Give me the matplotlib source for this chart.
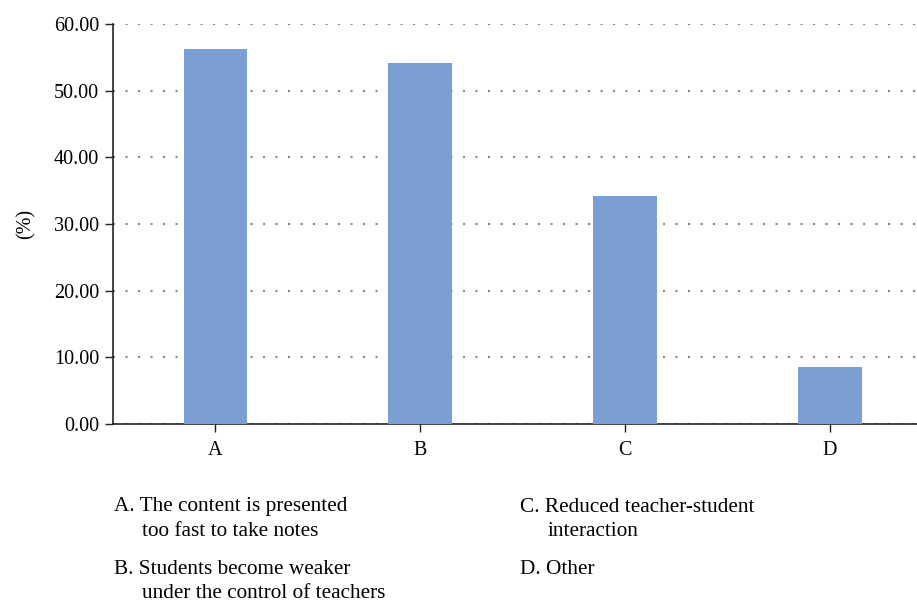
import matplotlib
matplotlib.use("Agg")
import matplotlib.pyplot as plt
import numpy as np

categories = ["A", "B", "C", "D"]
values = [56.3, 54.2, 34.2, 8.6]
yticks = [0, 10, 20, 30, 40, 50, 60]

notes_left = [("A. The content is presented", "too fast to take notes"),
              ("B. Students become weaker", "under the control of teachers")]
notes_right = [("C. Reduced teacher-student", "interaction"),
               ("D. Other", None)]

plt.rcParams["font.family"] = "Liberation Serif"

fig = plt.figure(figsize=(9.17, 6.01), dpi=100)
ax = fig.add_axes([0.1232, 0.2945, 0.8768, 0.6656])

x = np.arange(len(categories))
ax.bar(x, values, width=0.31, color="#7c9fd3", zorder=3)

ax.set_xlim(-0.5, 3.425)
ax.set_ylim(0, 60)
ax.set_yticks(yticks)
ax.set_yticklabels(["%.2f" % v for v in yticks], fontsize=14.5)
ax.set_xticks(x)
ax.set_xticklabels(categories, fontsize=14.5)
ax.yaxis.grid(True, linestyle=(0, (1, 5)), linewidth=1.5, color="#8a8a8a", zorder=0)
ax.tick_params(axis="both", direction="out", length=6, width=1, color="#222222", pad=4)
ax.tick_params(axis="x", pad=6)

for s in ["top", "right"]:
    ax.spines[s].set_visible(False)
for s in ["left", "bottom"]:
    ax.spines[s].set_color("#222222")
    ax.spines[s].set_linewidth(1.2)

ax.set_ylabel("(%)", fontsize=14.5, labelpad=13)

# notes under the chart
def put_notes(notes, x0, ys):
    for (first, second), (y1, y2) in zip(notes, ys):
        fig.text(x0 / 917, 1 - y1 / 601, first, fontsize=15.3, va="center", ha="left")
        if second:
            fig.text((x0 + 28) / 917, 1 - y2 / 601, second, fontsize=15.3, va="center", ha="left")

put_notes(notes_left, 114, [(507, 531), (569, 593)])
put_notes(notes_right, 520, [(507, 531), (569, 593)])

fig.savefig("out.png", dpi=100)
